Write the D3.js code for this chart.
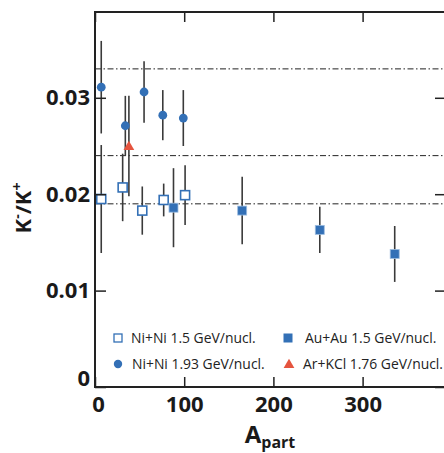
<!DOCTYPE html>
<html>
<head>
<meta charset="utf-8">
<script src="https://cdn.jsdelivr.net/npm/d3@7"></script>
<style>
  html, body { margin: 0; padding: 0; background: #fff; }
  svg { display: block; font-family: "Open Sans", "Noto Sans", sans-serif; }
</style>
</head>
<body>
<div id="chart"></div>
<script>
// Ni+Ni 1.5 GeV/nucl. (open squares)
const niNi15Apart = [7, 31, 53, 77, 101];
const niNi15Ratio = [0.0195, 0.0207, 0.0183, 0.0194, 0.0199];
const niNi15Err = [0.0056, 0.0035, 0.0025, 0.0017, 0.0031];

// Ni+Ni 1.93 GeV/nucl. (filled circles)
const niNi193Apart = [7, 34, 55, 76, 99];
const niNi193Ratio = [0.0311, 0.0271, 0.0306, 0.0282, 0.0279];
const niNi193Err = [0.0048, 0.0031, 0.0032, 0.0026, 0.0029];

// Au+Au 1.5 GeV/nucl. (filled squares)
const auAuApart = [88, 165, 252, 336];
const auAuRatio = [0.0186, 0.0183, 0.0163, 0.0138];
const auAuErr = [0.0041, 0.0035, 0.0024, 0.0029];

// Ar+KCl 1.76 GeV/nucl. (triangle)
const arKclApart = [38];
const arKclRatio = [0.025];
const arKclErr = [0.0052];

const refLines = [0.033, 0.024, 0.019];
const xTicks = [0, 100, 200, 300];
const yTicks = [0, 0.01, 0.02, 0.03];
const legendLabels = [
  "Ni+Ni 1.5 GeV/nucl.",
  "Au+Au 1.5 GeV/nucl.",
  "Ni+Ni 1.93 GeV/nucl.",
  "Ar+KCl 1.76 GeV/nucl."
];

const blue = "#3370b6";
const red = "#e5543e";

const width = 444;
const height = 453;
const margin = { top: 12, right: -2, bottom: 66, left: 95 };

const x = d3.scaleLinear().domain([0, 393.5]).range([margin.left, width - margin.right]);
const y = d3.scaleLinear().domain([0, 0.0389]).range([height - margin.bottom, margin.top]);

const svg = d3
  .select("#chart")
  .append("svg")
  .attr("width", width)
  .attr("height", height)
  .attr("viewBox", `0 0 ${width} ${height}`);

function zip(xs, ys, es) {
  return xs.map((v, i) => ({ a: v, r: ys[i], e: es[i] }));
}

const niNi15 = zip(niNi15Apart, niNi15Ratio, niNi15Err);
const niNi193 = zip(niNi193Apart, niNi193Ratio, niNi193Err);
const auAu = zip(auAuApart, auAuRatio, auAuErr);
const arKcl = zip(arKclApart, arKclRatio, arKclErr);

// dash-dot reference lines
svg
  .append("g")
  .selectAll("line")
  .data(refLines)
  .join("line")
  .attr("x1", x(0))
  .attr("x2", width)
  .attr("y1", (d) => y(d))
  .attr("y2", (d) => y(d))
  .attr("stroke", "#222")
  .attr("stroke-width", 1)
  .attr("stroke-dasharray", "6 2.5 1.5 2.5");

// error bars
[niNi15, niNi193, auAu, arKcl].forEach((series) => {
  svg
    .append("g")
    .selectAll("line")
    .data(series)
    .join("line")
    .attr("x1", (d) => x(d.a))
    .attr("x2", (d) => x(d.a))
    .attr("y1", (d) => y(d.r + d.e))
    .attr("y2", (d) => y(d.r - d.e))
    .attr("stroke", "#3a3a3a")
    .attr("stroke-width", 1.6);
});

// markers
svg
  .append("g")
  .selectAll("rect")
  .data(niNi15)
  .join("rect")
  .attr("x", (d) => x(d.a) - 4.5)
  .attr("y", (d) => y(d.r) - 4.5)
  .attr("width", 9)
  .attr("height", 9)
  .attr("fill", "#fff")
  .attr("stroke", blue)
  .attr("stroke-width", 1.6);

svg
  .append("g")
  .selectAll("rect")
  .data(auAu)
  .join("rect")
  .attr("x", (d) => x(d.a) - 4.5)
  .attr("y", (d) => y(d.r) - 4.5)
  .attr("width", 9)
  .attr("height", 9)
  .attr("fill", blue)
  .attr("stroke", "#9dbde0")
  .attr("stroke-width", 0.8);

svg
  .append("g")
  .selectAll("circle")
  .data(niNi193)
  .join("circle")
  .attr("cx", (d) => x(d.a))
  .attr("cy", (d) => y(d.r))
  .attr("r", 4.4)
  .attr("fill", blue);

const tri = d3.symbol().type(d3.symbolTriangle).size(50);
svg
  .append("g")
  .selectAll("path")
  .data(arKcl)
  .join("path")
  .attr("transform", (d) => `translate(${x(d.a)},${y(d.r) + 1})`)
  .attr("d", tri)
  .attr("fill", red);

// axes
const axisColor = "#222";

const axBottom = svg
  .append("g")
  .attr("transform", `translate(0,${y(0)})`)
  .call(d3.axisBottom(x).tickValues(xTicks).tickSize(-10).tickSizeOuter(0).tickPadding(9).tickFormat(d3.format("d")));

const axTop = svg
  .append("g")
  .attr("transform", `translate(0,${y.range()[1]})`)
  .call(d3.axisTop(x).tickValues(xTicks).tickSize(-10).tickSizeOuter(0).tickFormat(""));

const axLeft = svg
  .append("g")
  .attr("transform", `translate(${x(0)},0)`)
  .call(d3.axisLeft(y).tickValues(yTicks).tickSize(-11).tickSizeOuter(0).tickPadding(5).tickFormat((d) => (d === 0 ? "0" : d3.format(".2f")(d))));

const axRight = svg
  .append("g")
  .attr("transform", `translate(${x.range()[1]},0)`)
  .call(d3.axisRight(y).tickValues(yTicks).tickSize(-11).tickSizeOuter(0).tickFormat(""));

[axBottom, axTop, axLeft, axRight].forEach((g) => {
  g.select(".domain").remove();
  g.selectAll(".tick line").attr("stroke", axisColor).attr("stroke-width", 1.5);
  g.selectAll(".tick text")
    .attr("fill", "#1a1a1a")
    .attr("font-size", 22)
    .attr("font-weight", 700)
    .attr("font-family", '"Open Sans", sans-serif');
});

axBottom.selectAll(".tick text").filter((d) => d === 0).attr("dx", 3);
axLeft.selectAll(".tick text").filter((d) => d === 0).attr("dy", "-0.05em");

svg
  .append("rect")
  .attr("x", x.range()[0])
  .attr("y", y.range()[1])
  .attr("width", x.range()[1] - x.range()[0])
  .attr("height", y.range()[0] - y.range()[1])
  .attr("fill", "none")
  .attr("stroke", axisColor)
  .attr("stroke-width", 2);

// legend
const legend = svg.append("g").attr("font-size", 13.9).attr("fill", "#222");
const legendPos = [
  [118, 338],
  [288, 338],
  [118, 364],
  [289, 364]
];
const legendGap = [13, 17, 14, 14];

legend
  .append("rect")
  .attr("x", legendPos[0][0] - 4)
  .attr("y", legendPos[0][1] - 4)
  .attr("width", 8)
  .attr("height", 8)
  .attr("fill", "#fff")
  .attr("stroke", blue)
  .attr("stroke-width", 1.3);

legend
  .append("rect")
  .attr("x", legendPos[1][0] - 4.5)
  .attr("y", legendPos[1][1] - 4.5)
  .attr("width", 9)
  .attr("height", 9)
  .attr("fill", blue);

legend
  .append("circle")
  .attr("cx", legendPos[2][0])
  .attr("cy", legendPos[2][1])
  .attr("r", 4.2)
  .attr("fill", blue);

legend
  .append("path")
  .attr("transform", `translate(${legendPos[3][0]},${legendPos[3][1] + 1})`)
  .attr("d", tri)
  .attr("fill", red);

legend
  .selectAll("text")
  .data(legendLabels)
  .join("text")
  .attr("x", (d, i) => legendPos[i][0] + legendGap[i])
  .attr("y", (d, i) => legendPos[i][1] + 5)
  .text((d) => d);

// axis titles
svg
  .append("text")
  .attr("transform", `translate(31,208) rotate(-90)`)
  .attr("text-anchor", "middle")
  .attr("font-size", 22)
  .attr("font-weight", 700)
  .attr("fill", "#1a1a1a")
  .call((t) => {
    t.append("tspan").text("K");
    t.append("tspan").attr("font-size", 14).attr("dy", -9).text("-");
    t.append("tspan").attr("dy", 9).text("/K");
    t.append("tspan").attr("font-size", 14).attr("dy", -9).text("+");
  });

svg
  .append("text")
  .attr("x", 270)
  .attr("y", 443)
  .attr("text-anchor", "middle")
  .attr("font-size", 24)
  .attr("font-weight", 700)
  .attr("fill", "#1a1a1a")
  .call((t) => {
    t.append("tspan").text("A");
    t.append("tspan").attr("font-size", 16).attr("dy", 5).text("part");
  });
</script>
</body>
</html>
